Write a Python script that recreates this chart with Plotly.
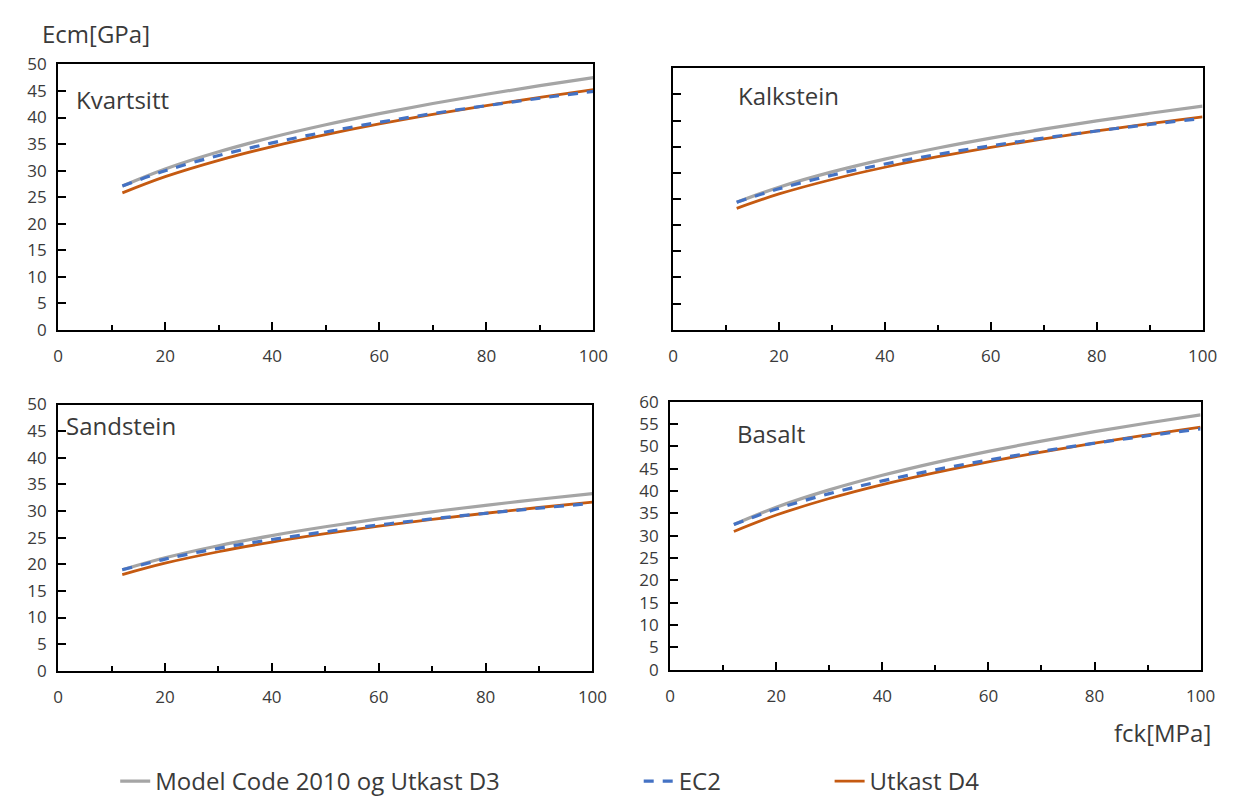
import plotly.graph_objects as go

# Characteristic cylinder strength fck [MPa]
fck = [12, 20, 30, 40, 50, 60, 70, 80, 90, 100]

# Ecm [GPa] per aggregate type and code
kvartsitt_mc = [27.09, 30.30, 33.54, 36.27, 38.63, 40.73, 42.64, 44.39, 46.01, 47.52]
kvartsitt_ec2 = [27.08, 29.96, 32.84, 35.22, 37.28, 39.10, 40.74, 42.24, 43.63, 44.92]
kvartsitt_d4 = [25.79, 28.85, 31.93, 34.53, 36.77, 38.78, 40.59, 42.26, 43.80, 45.24]

kalkstein_mc = [24.38, 27.27, 30.19, 32.64, 34.77, 36.66, 38.38, 39.95, 41.41, 42.77]
kalkstein_ec2 = [24.37, 26.96, 29.56, 31.70, 33.55, 35.19, 36.67, 38.02, 39.27, 40.43]
kalkstein_d4 = [23.21, 25.97, 28.74, 31.08, 33.09, 34.90, 36.53, 38.03, 39.42, 40.72]

sandstein_mc = [18.96, 21.21, 23.48, 25.39, 27.04, 28.51, 29.85, 31.07, 32.21, 33.26]
sandstein_ec2 = [18.96, 20.97, 22.99, 24.65, 26.10, 27.37, 28.52, 29.57, 30.54, 31.44]
sandstein_d4 = [18.05, 20.20, 22.35, 24.17, 25.74, 27.15, 28.41, 29.58, 30.66, 31.67]

basalt_mc = [32.51, 36.36, 40.25, 43.52, 46.36, 48.88, 51.17, 53.27, 55.21, 57.02]
basalt_ec2 = [32.50, 35.95, 39.41, 42.26, 44.74, 46.92, 48.89, 50.69, 52.36, 53.90]
basalt_d4 = [30.95, 34.62, 38.32, 41.44, 44.12, 46.54, 48.71, 50.71, 52.56, 54.29]

panel_names = ["Kvartsitt", "Kalkstein", "Sandstein", "Basalt"]
series_names = ["Model Code 2010 og Utkast D3", "EC2", "Utkast D4"]
y_max = [50, 50, 50, 60]

panels = [
    (kvartsitt_mc, kvartsitt_ec2, kvartsitt_d4),
    (kalkstein_mc, kalkstein_ec2, kalkstein_d4),
    (sandstein_mc, sandstein_ec2, sandstein_d4),
    (basalt_mc, basalt_ec2, basalt_d4),
]

W, H = 1252, 810
FONT = "Open Sans"
TXT = "#3a3a3a"

# plot-area boxes in pixels: (left, right, top, bottom)
boxes = [
    (54, 598, 54, 327),
    (679, 1217, 58, 327),
    (54, 597, 404, 678),
    (676, 1215, 401, 677),
]

GRAY = "#a5a5a5"
BLUE = "#4472c4"
ORANGE = "#c55a11"

fig = go.Figure()

for i, (mc, ec2, d4) in enumerate(panels):
    ax = "" if i == 0 else str(i + 1)
    xa, ya = "x" + ax, "y" + ax
    first = i == 0
    fig.add_trace(go.Scatter(
        x=fck, y=mc, xaxis=xa, yaxis=ya, mode="lines", line_shape="spline",
        line=dict(color=GRAY, width=3.2), name=series_names[0],
        showlegend=first, legend="legend"))
    fig.add_trace(go.Scatter(
        x=fck, y=d4, xaxis=xa, yaxis=ya, mode="lines", line_shape="spline",
        line=dict(color=ORANGE, width=2.8), name=series_names[2],
        showlegend=first, legend="legend3"))
    fig.add_trace(go.Scatter(
        x=fck, y=ec2, xaxis=xa, yaxis=ya, mode="lines", line_shape="spline",
        line=dict(color=BLUE, width=3.2, dash="10px,9px"), name=series_names[1],
        showlegend=first, legend="legend2"))

    l, r, t, b = boxes[i]
    axis_common = dict(showline=True, linecolor="black", linewidth=2, mirror=True,
                       showgrid=False, zeroline=False, ticks="inside",
                       tickcolor="black", tickwidth=1.5,
                       tickfont=dict(family=FONT, size=17, color=TXT))
    fig.layout["xaxis" + ax] = dict(
        axis_common, domain=[l / W, r / W], anchor=ya, range=[0, 100],
        tick0=0, dtick=20, ticklen=8, ticklabelstandoff=10,
        minor=dict(dtick=10, ticks="inside", ticklen=5, tickcolor="black", tickwidth=1.5))
    fig.layout["yaxis" + ax] = dict(
        axis_common, domain=[1 - b / H, 1 - t / H], anchor=xa, range=[0, y_max[i]],
        tick0=0, dtick=5, ticklen=8, ticklabelstandoff=6,
        showticklabels=(i != 1))

# panel labels
label_pos = [(70, 90), (743, 86), (60, 426), (742, 434)]
for name, (px, py) in zip(panel_names, label_pos):
    fig.add_annotation(text=name, x=px / W, y=1 - py / H, xref="paper", yref="paper",
                       xanchor="left", yanchor="middle", showarrow=False,
                       font=dict(family=FONT, size=24, color=TXT))

# axis titles
fig.add_annotation(text="Ecm[GPa]", x=36 / W, y=1 - 22 / H, xref="paper", yref="paper",
                   xanchor="left", yanchor="middle", showarrow=False,
                   font=dict(family=FONT, size=24, color=TXT))
fig.add_annotation(text="fck[MPa]", x=1228 / W, y=1 - 742 / H, xref="paper", yref="paper",
                   xanchor="right", yanchor="middle", showarrow=False,
                   font=dict(family=FONT, size=24, color=TXT))

leg_common = dict(orientation="h", xanchor="left", yanchor="middle",
                  bgcolor="rgba(0,0,0,0)", font=dict(family=FONT, size=24, color=TXT),
                  itemwidth=30, tracegroupgap=0)
fig.update_layout(
    width=W, height=H, margin=dict(l=0, r=0, t=0, b=0),
    paper_bgcolor="white", plot_bgcolor="white",
    legend=dict(leg_common, x=112 / W, y=1 - 792 / H),
    legend2=dict(leg_common, x=644 / W, y=1 - 792 / H),
    legend3=dict(leg_common, x=838 / W, y=1 - 792 / H),
)

fig.write_html("out.html")
